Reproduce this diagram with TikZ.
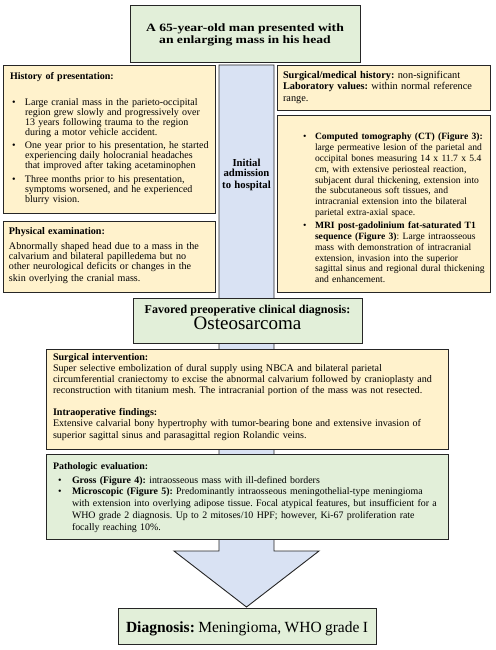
\documentclass[tikz,border=0pt]{standalone}
\usepackage{fontspec}
\setmainfont{Liberation Serif}
\newfontfamily\widefont[FakeStretch=1.22]{Liberation Serif}
\definecolor{grn}{RGB}{226,239,217}
\definecolor{ylw}{RGB}{255,242,204}
\definecolor{blu}{RGB}{217,226,243}
\newcommand\fs[2]{\fontsize{#1}{#2}\selectfont\lineskiplimit=-20pt\frenchspacing\relax}
\newcommand\lft{\raggedright\parindent=0pt\relax}
\newcommand\bitem[3]{\par{\let\\\newline\leftskip=#1\relax\hangindent=#2\relax\hangafter=1\noindent\makebox[#2][l]{\textbullet}#3\par}}
\begin{document}
\begin{tikzpicture}[x=1pt,y=-1pt,
  box/.style={draw=black!85,line width=0.9pt,inner sep=0pt,outer sep=0pt,anchor=north west},
  txt/.style={inner sep=0pt,outer sep=0pt,anchor=base west},
  ctxt/.style={inner sep=0pt,outer sep=0pt,anchor=base,align=center},
  arrowbody/.style={fill=blu,draw=black!85,line width=0.9pt,line join=miter}]
\useasboundingbox (0,0) rectangle (495,650);
\fill[white] (0,0) rectangle (495,650);
% big arrow
\coordinate (s1) at (219,65);
\coordinate (s2) at (274,65);
\coordinate (s3) at (274,551);
\coordinate (h1) at (319,551);
\coordinate (tip) at (246.5,607);
\coordinate (h2) at (174,551);
\coordinate (s4) at (219,551);
\draw[arrowbody] (s1) -- (s2) -- (s3) -- (h1) -- (tip) -- (h2) -- (s4) -- cycle;
\node[ctxt,text width=55pt] (init) at (246.5,166) {\fs{10.7}{10}\bfseries Initial\\admission\\to hospital};
% top
\node[box,fill=grn,minimum width=230pt,minimum height=57pt] (top) at (130,5) {};
\node[ctxt,text width=230pt] (toptxt) at (245,31.7) {\widefont\fs{11.2}{10}\bfseries A 65-year-old man presented with\\an enlarging mass in his head};
% history
\node[box,fill=ylw,minimum width=212pt,minimum height=148pt] (hist) at (3,65) {};
\node[txt,text width=210pt] (histtxt) at (10,79.5) {\lft\fs{10}{10}\textbf{History of presentation:}\par\vspace{16pt}%
\bitem{2pt}{13pt}{Large cranial mass in the parieto-occipital\\region grew slowly and progressively over\\13 years following trauma to the region\\during a motor vehicle accident.}\vspace{3.3pt}%
\bitem{2pt}{13pt}{One year prior to his presentation, he started\\experiencing daily holocranial headaches\\that improved after taking acetaminophen}\vspace{3.3pt}%
\bitem{2pt}{13pt}{Three months prior to his presentation,\\symptoms worsened, and he experienced\\blurry vision.}};
% physical
\node[box,fill=ylw,minimum width=212pt,minimum height=71pt] (phys) at (3,221) {};
\node[txt,text width=210pt] (phystxt) at (9,234.5) {\lft\fs{10.1}{10}\textbf{Physical examination:}\par\vspace{5pt}Abnormally shaped head due to a mass in the\\calvarium and bilateral papilledema but no\\other neurological deficits or changes in the\\skin overlying the cranial mass.};
% surgical / medical history
\node[box,fill=ylw,minimum width=213pt,minimum height=45pt] (hx) at (277,65) {};
\node[txt,text width=210pt] (hxtxt) at (283,78.5) {\lft\fs{10.3}{11.5}\textbf{Surgical/medical history:} non-significant\\\textbf{Laboratory values:} within normal reference\\range.};
% imaging
\node[box,fill=ylw,minimum width=213pt,minimum height=177pt] (ct) at (277,115) {};
\node[txt,text width=205pt] (cttxt) at (303,129) {\lft\fs{9.6}{10.8}%
\bitem{0pt}{12pt}{\textbf{Computed tomography (CT) (Figure 3):}\\large permeative lesion of the parietal and\\occipital bones measuring 14 x 11.7 x 5.4\\cm, with extensive periosteal reaction,\\subjacent dural thickening, extension into\\the subcutaneous soft tissues, and\\intracranial extension into the bilateral\\parietal extra-axial space.}\vspace{2.5pt}%
\bitem{0pt}{12pt}{\textbf{MRI post-gadolinium fat-saturated T1}\\\textbf{sequence (Figure 3)}: Large intraosseous\\mass with demonstration of intracranial\\extension, invasion into the superior\\sagittal sinus and regional dural thickening\\and enhancement.}};
% preoperative diagnosis
\node[box,fill=grn,minimum width=229pt,minimum height=45pt] (osteo) at (133,298) {};
\node[ctxt,text width=229pt] (osteotxt) at (247.5,313) {\fs{12}{14}\textbf{Favored preoperative clinical diagnosis:}\par\fs{19}{22}Osteosarcoma};
% surgical intervention
\node[box,fill=ylw,minimum width=402pt,minimum height=100pt] (surg) at (46,349) {};
\node[txt,text width=398pt] (surgtxt) at (53,360.7) {\lft\fs{10.1}{10.9}\textbf{Surgical intervention:}\\Super selective embolization of dural supply using NBCA and bilateral parietal\\circumferential craniectomy to excise the abnormal calvarium followed by cranioplasty and\\reconstruction with titanium mesh. The intracranial portion of the mass was not resected.\par\vspace{11.4pt}\textbf{Intraoperative findings:}\\Extensive calvarial bony hypertrophy with tumor-bearing bone and extensive invasion of\\superior sagittal sinus and parasagittal region Rolandic veins.};
% pathology
\node[box,fill=grn,minimum width=402pt,minimum height=85pt] (path) at (46,454) {};
\node[txt,text width=398pt] (pathtxt) at (53,469) {\lft\fs{9.9}{11.8}\textbf{Pathologic evaluation:}\par\vspace{2.2pt}%
\bitem{5pt}{14pt}{\textbf{Gross (Figure 4):} intraosseous mass with ill-defined borders}%
\bitem{5pt}{14pt}{\textbf{Microscopic (Figure 5):} Predominantly intraosseous meningothelial-type meningioma\\with extension into overlying adipose tissue. Focal atypical features, but insufficient for a\\WHO grade 2 diagnosis. Up to 2 mitoses/10 HPF; however, Ki-67 proliferation rate\\focally reaching 10\%.}};
% final diagnosis
\node[box,fill=grn,minimum width=258pt,minimum height=36pt] (diag) at (118,608) {};
\node[ctxt,text width=258pt] (diagtxt) at (247,632) {\fs{15.5}{18}\textbf{Diagnosis:} Meningioma, WHO grade I};
\end{tikzpicture}
\end{document}
